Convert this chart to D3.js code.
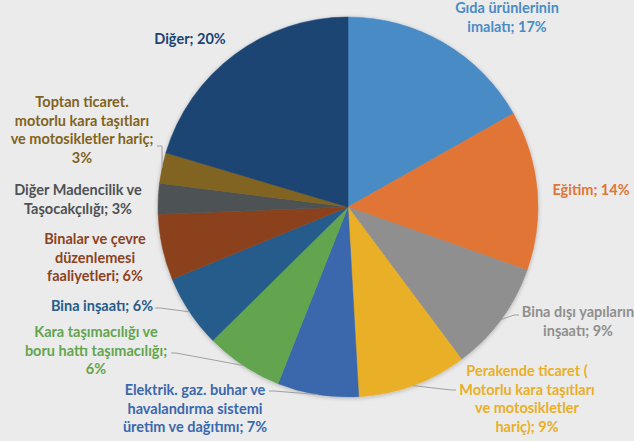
<!DOCTYPE html>
<html>
<head>
<meta charset="utf-8">
<script src="https://cdn.jsdelivr.net/npm/d3@7/dist/d3.min.js"></script>
<style>
  html, body { margin: 0; padding: 0; background: #ebebeb; }
  svg { display: block; }
  text { font-family: Lato, "Open Sans", sans-serif; font-weight: 700; font-size: 14.5px; }
</style>
</head>
<body>
<svg id="chart" width="634" height="441"></svg>
<script>
// ---- data ----
const categories = [
  "Gıda ürünlerinin imalatı",
  "Eğitim",
  "Bina dışı yapıların inşaatı",
  "Perakende ticaret ( Motorlu kara taşıtları ve motosikletler hariç)",
  "Elektrik. gaz. buhar ve havalandırma sistemi üretim ve dağıtımı",
  "Kara taşımacılığı ve boru hattı taşımacılığı",
  "Bina inşaatı",
  "Binalar ve çevre düzenlemesi faaliyetleri",
  "Diğer Madencilik ve Taşocakçılığı",
  "Toptan ticaret. motorlu kara taşıtları ve motosikletler hariç",
  "Diğer"
];
const values = [16.8, 13.6, 9.4, 9.3, 6.9, 6.6, 6.2, 5.6, 2.6, 2.6, 20.4];
const shownPercent = ["17%", "14%", "9%", "9%", "7%", "6%", "6%", "6%", "3%", "3%", "20%"];
const colors = ["#4a8bc5", "#e07536", "#8f8f8f", "#e9af27", "#3a68ad", "#63a54f", "#255c8b", "#8b431f", "#4e5254", "#816321", "#1a4473"];
const labelColors = ["#4a8bc5", "#e07536", "#8f8f8f", "#e9af27", "#3a68ad", "#63a54f", "#255c8b", "#8b431f", "#4e5254", "#816321", "#1a4473"];
// label text broken into lines (last line gets "; NN%")
const labelLines = [
  ["Gıda ürünlerinin", "imalatı;"],
  ["Eğitim;"],
  ["Bina dışı yapıların", "inşaatı;"],
  ["Perakende ticaret (", "Motorlu kara taşıtları", "ve motosikletler", "hariç);"],
  ["Elektrik. gaz. buhar ve", "havalandırma sistemi", "üretim ve dağıtımı;"],
  ["Kara taşımacılığı ve", "boru hattı taşımacılığı;", ""],
  ["Bina inşaatı;"],
  ["Binalar ve çevre", "düzenlemesi", "faaliyetleri;"],
  ["Diğer Madencilik ve", "Taşocakçılığı;"],
  ["Toptan ticaret.", "motorlu kara taşıtları", "ve motosikletler hariç;", ""],
  ["Diğer;"]
];

// ---- layout ----
const W = 634, H = 441;
const cx = 348, cy = 207, R = 190;
const lineH = 18.7;
// label block: centre x, first baseline y, leader start (or null)
const labelLayout = [
  { x: 507, y: 13,  leader: null },
  { x: 591, y: 195, leader: null },
  { x: 578, y: 317, leader: [519, 315] },
  { x: 527, y: 376, leader: [456, 390] },
  { x: 195, y: 395, leader: [269, 391] },
  { x: 96,  y: 337, leader: [171, 353] },
  { x: 102, y: 311, leader: [155, 308] },
  { x: 95,  y: 244, leader: null },
  { x: 78,  y: 195, leader: null },
  { x: 82,  y: 107, leader: [157, 146] },
  { x: 190, y: 44,  leader: null }
];

const svg = d3.select("#chart");
svg.append("rect").attr("width", W).attr("height", H).attr("fill", "#ebebeb");

const defs = svg.append("defs");
const f = defs.append("filter").attr("id", "sh").attr("x", "-10%").attr("y", "-10%").attr("width", "120%").attr("height", "120%");
f.append("feDropShadow").attr("dx", 0).attr("dy", 1).attr("stdDeviation", 2).attr("flood-color", "#000").attr("flood-opacity", 0.25);

const pie = d3.pie().sort(null).value(d => d)(values);
const arc = d3.arc().innerRadius(0).outerRadius(R);

const g = svg.append("g").attr("transform", `translate(${cx},${cy})`);
g.append("g").attr("filter", "url(#sh)")
  .selectAll("path").data(pie).join("path")
  .attr("d", arc)
  .attr("fill", (d, i) => colors[i])
  .attr("stroke", (d, i) => colors[i])
  .attr("stroke-width", 0.5);

// leader lines
pie.forEach((d, i) => {
  const L = labelLayout[i];
  if (!L.leader) return;
  const mid = (d.startAngle + d.endAngle) / 2;
  const px = cx + R * Math.sin(mid), py = cy - R * Math.cos(mid);
  const [lx, ly] = L.leader;
  const dir = px > lx ? 1 : -1;
  const pts = [[lx, ly], [lx + dir * 5, ly], [px, py]];
  svg.append("path")
    .attr("d", d3.line()(pts))
    .attr("fill", "none")
    .attr("stroke", "#a0a0a0")
    .attr("stroke-width", 1);
});

// labels
labelLines.forEach((lines, i) => {
  const L = labelLayout[i];
  const t = svg.append("text")
    .attr("text-anchor", "middle")
    .attr("fill", labelColors[i]);
  lines.forEach((ln, k) => {
    let s = ln;
    if (k === lines.length - 1) s = (ln ? ln + " " : "") + shownPercent[i];
    t.append("tspan").attr("x", L.x).attr("y", L.y + k * lineH).text(s);
  });
});
</script>
</body>
</html>
